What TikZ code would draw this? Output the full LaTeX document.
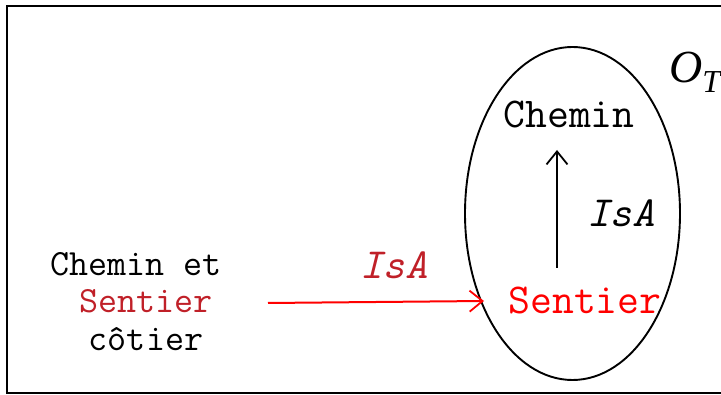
\documentclass[tikz,border=0pt]{standalone}
\usepackage{fontspec}
\setmainfont{Liberation Serif}
\usetikzlibrary{arrows.meta}
\definecolor{darkred}{RGB}{192,32,40}
\tikzset{
  lbl/.style={inner sep=0pt, anchor=base, font=\ttfamily\fontsize{42.5}{44}\selectfont},
  lblsmall/.style={inner sep=0pt, anchor=base, font=\ttfamily\fontsize{37}{40}\selectfont},
  rel/.style={inner sep=0pt, anchor=base, font=\ttfamily\itshape\fontsize{43}{44}\selectfont},
  isa/.style={line width=2pt, -{Straight Barb[length=13pt,width=21pt,line width=1.8pt]}},
}
\begin{document}
\begin{tikzpicture}[x=1pt,y=-1pt]
  \useasboundingbox (0,0) rectangle (721,395);
  % outer frame, cut off on the right
  \draw[line width=2pt] (730,6) -- (7,6) -- (7,393) -- (730,393);
  \begin{scope}
    \clip (0,0) rectangle (721,395);
    \node[anchor=base west, inner sep=0pt, font=\itshape\fontsize{46}{50}\selectfont] (ot) at (669,83)
      {O\raisebox{-10pt}{\fontsize{32}{34}\selectfont T}};
  \end{scope}
  % the ontology
  \draw[line width=1.9pt] (572.5,213.5) ellipse [x radius=107.5, y radius=166.5];
  \node[lbl] (chemin) at (569,128) {Chemin};
  \node[lbl, text=red] (sentier) at (585,314) {Sentier};
  \node[rel] (isa1) at (621,227) {IsA};
  \coordinate (up0) at (557,268);
  \coordinate (up1) at (557,150);
  \draw[isa] (up0) -- (up1);
  % the term to be placed
  \node[lblsmall] (t1) at (136,276) {Chemin et};
  \node[lblsmall, text=darkred] (t2) at (146,313) {Sentier};
  \node[lblsmall] (t3) at (146,351) {côtier};
  \node[rel, text=darkred] (isa2) at (394,279) {IsA};
  \coordinate (a0) at (268,303);
  \coordinate (a1) at (484,301);
  \draw[isa, red] (a0) -- (a1);
\end{tikzpicture}
\end{document}
